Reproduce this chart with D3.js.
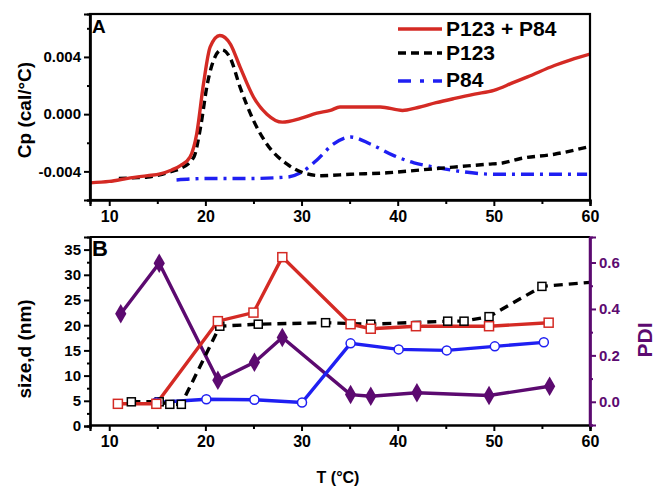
<!DOCTYPE html>
<html><head><meta charset="utf-8">
<script src="https://cdn.jsdelivr.net/npm/d3@7"></script>
<style>
body{margin:0;background:#fff;}
text{font-family:"Liberation Sans",Arial,sans-serif;font-weight:bold;}
</style></head>
<body><svg id="c" width="657" height="487"></svg>
<script>
// ---- Panel A data (DSC, Cp in cal/°C) ----
const mixT  = [8,10,12.2,14,15.3,16.5,17.4,18.4,19.1,19.8,20.5,21.5,22.6,23.6,25,26.4,28,29.9,31.6,33,34,36,38.2,40.5,42,44,45.8,48,50,52,53.5,56.3,58,60];
const mixCp = [-0.0048,-0.0047,-0.00445,-0.0043,-0.00417,-0.0039,-0.0036,-0.003,-0.00137,0.0021,0.0047,0.0055,0.0049,0.0033,0.0012,0.0000,-0.00056,-0.0003,0.00007,0.00026,0.0005,0.0005,0.0005,0.00026,0.00045,0.0008,0.00108,0.0014,0.00166,0.0022,0.0026,0.0034,0.0038,0.0042];
const p123T  = [11,12.5,14,15.5,16.5,17.4,18.8,19.5,20.2,21,21.7,22.6,23.6,25,26.4,28.5,30.2,32,35.1,38.9,42.4,45.8,49.3,51,52.8,56.3,59.7];
const p123Cp = [-0.0045,-0.00445,-0.0044,-0.0042,-0.0040,-0.0038,-0.003,-0.0009,0.0021,0.004,0.0045,0.0039,0.0019,-0.00044,-0.0021,-0.0035,-0.0041,-0.0043,-0.0042,-0.0041,-0.0039,-0.0037,-0.0035,-0.0034,-0.0031,-0.0028,-0.0023];
const p84T  = [17,20,24,28.5,29.9,31.6,33.3,35.1,37.2,39.6,41.7,43.8,46.5,50,52.8,56,59.7];
const p84Cp = [-0.0046,-0.0045,-0.0045,-0.0044,-0.0041,-0.0032,-0.0021,-0.0016,-0.0021,-0.0029,-0.0034,-0.0037,-0.0040,-0.0042,-0.0042,-0.0042,-0.0042];
const legendNames = ["P123 + P84","P123","P84"];
const cpTicks = [-0.004,0.000,0.004];
const cpTickLabels = ["-0.004","0.000","0.004"];
const cpMinor = [-0.006,-0.002,0.002,0.006];
const tTicks = [10,20,30,40,50,60];
const tMinor = [15,25,35,45,55];

// ---- Panel B data (DLS size and PDI) ----
const redT = [10.9,14.9,21.3,25,28,35.1,37.2,41.9,49.5,55.7];
const redSize = [4.4,4.4,20.8,22.5,33.5,20.2,19.3,19.8,19.8,20.5];
const blackT = [12.3,15.2,16.3,17.5,21.5,25.5,32.5,37.2,45.2,46.9,49.5,55,60];
const blackSize = [4.8,4.8,4.3,4.3,19.8,20.2,20.5,20.2,20.8,20.8,21.7,27.7,28.5];
const blackMarker = [1,1,1,1,1,1,1,1,1,1,1,1,0];
const blueT = [14.9,20.1,25.1,30.05,35.1,40.1,45.1,50.1,55.2];
const blueSize = [4.65,5.3,5.2,4.65,16.4,15.2,15.0,15.8,16.6];
const pdiT = [11.2,15.2,21.3,25.1,28,35.1,37.2,42,49.5,55.8];
const pdi = [0.379,0.597,0.093,0.17,0.277,0.031,0.024,0.039,0.027,0.067];
const sizeTicks = [0,5,10,15,20,25,30,35];
const sizeMinor = [2.5,7.5,12.5,17.5,22.5,27.5,32.5];
const pdiTicks = [0.0,0.2,0.4,0.6];
const pdiMinor = [-0.1,0.1,0.3,0.5];

const RED="#d42a24", BLUE="#1f1ff2", PURPLE="#5c0a70", BLACK="#000";
const svg = d3.select("#c");
const L=90, R=590;
const x = d3.scaleLinear().domain([8,60]).range([L,R]);

// ---------- Panel A ----------
const aT=14, aB=200;
const yA = d3.scaleLinear().domain([-0.006,0.007]).range([aB,aT]);
const gA = svg.append("g");
svg.append("clipPath").attr("id","ca").append("rect").attr("x",L).attr("y",aT).attr("width",R-L).attr("height",aB-aT);
const lineA = (T,V)=>d3.line().x((d,i)=>x(T[i])).y(d=>yA(d)).curve(d3.curveMonotoneX)(V);
const plotA = gA.append("g").attr("clip-path","url(#ca)");
plotA.append("path").attr("d",lineA(p84T,p84Cp)).attr("fill","none").attr("stroke",BLUE).attr("stroke-width",3.4).attr("stroke-dasharray","13,6,3,6");
plotA.append("path").attr("d",lineA(p123T,p123Cp)).attr("fill","none").attr("stroke",BLACK).attr("stroke-width",3.4).attr("stroke-dasharray","8,5");
plotA.append("path").attr("d",lineA(mixT,mixCp)).attr("fill","none").attr("stroke",RED).attr("stroke-width",3.4);

gA.append("rect").attr("x",L).attr("y",aT).attr("width",R-L).attr("height",aB-aT).attr("fill","none").attr("stroke","#000").attr("stroke-width",2.2);
const axA = gA.append("g").attr("class","yax").attr("transform",`translate(${L},0)`)
  .call(d3.axisLeft(yA).tickValues(cpTicks).tickFormat((d,i)=>cpTickLabels[i]).tickSize(6).tickPadding(3));
axA.append("g").call(d3.axisLeft(yA).tickValues(cpMinor).tickSize(3).tickFormat(""));
const axAx = gA.append("g").attr("class","xax").attr("transform",`translate(0,${aB})`)
  .call(d3.axisBottom(x).tickValues(tTicks).tickSize(6).tickPadding(5));
axAx.append("g").call(d3.axisBottom(x).tickValues(tMinor).tickSize(4).tickFormat(""));

gA.append("text").attr("x",L+2).attr("y",aT+19).attr("font-size",19).text("A");
gA.append("text").attr("transform","translate(31,110) rotate(-90)").attr("text-anchor","middle").attr("font-size",19).text("Cp (cal/°C)");

// legend
const leg = gA.append("g");
const legStyles = [{c:RED,d:null},{c:BLACK,d:"8,5"},{c:BLUE,d:"13,9,4,9"}];
const legY=[29,53,81], legBase=[36,60,87];
legendNames.forEach((n,i)=>{
  leg.append("line").attr("x1",398).attr("x2",442).attr("y1",legY[i]).attr("y2",legY[i])
    .attr("stroke",legStyles[i].c).attr("stroke-width",3.5).attr("stroke-dasharray",legStyles[i].d);
  leg.append("text").attr("x",446).attr("y",legBase[i]).attr("font-size",21).text(n);
});

// ---------- Panel B ----------
const bT=237, bB=425;
const yB = d3.scaleLinear().domain([0,37.5]).range([426,bT]);
const yP = d3.scaleLinear().domain([-0.1,0.71]).range([bB,bT]);
const gB = svg.append("g");
const lineB = (T,V,ys)=>d3.line().x((d,i)=>x(T[i])).y(d=>ys(d))(V);

gB.append("path").attr("d",lineB(pdiT,pdi,yP)).attr("fill","none").attr("stroke",PURPLE).attr("stroke-width",3.4);
gB.append("path").attr("d",lineB(blueT,blueSize,yB)).attr("fill","none").attr("stroke",BLUE).attr("stroke-width",3.4);
gB.append("path").attr("d",lineB(blackT,blackSize,yB)).attr("fill","none").attr("stroke",BLACK).attr("stroke-width",3.4).attr("stroke-dasharray","9,6");
gB.append("path").attr("d",lineB(redT,redSize,yB)).attr("fill","none").attr("stroke",RED).attr("stroke-width",3.4);

const bIdx = blackT.map((d,i)=>i).filter(i=>blackMarker[i]);
gB.selectAll(".bm").data(bIdx).enter().append("rect")
  .attr("x",i=>x(blackT[i])-4).attr("y",i=>yB(blackSize[i])-4).attr("width",8).attr("height",8)
  .attr("fill","#fff").attr("stroke",BLACK).attr("stroke-width",1.5);
gB.selectAll(".bc").data(blueT).enter().append("circle")
  .attr("cx",d=>x(d)).attr("cy",(d,i)=>yB(blueSize[i])).attr("r",4.5)
  .attr("fill","#fff").attr("stroke",BLUE).attr("stroke-width",1.5);
gB.selectAll(".rs").data(redT).enter().append("rect")
  .attr("x",d=>x(d)-4.5).attr("y",(d,i)=>yB(redSize[i])-4.5).attr("width",9).attr("height",9)
  .attr("fill","#fff").attr("stroke",RED).attr("stroke-width",1.5);
gB.selectAll(".pd").data(pdiT).enter().append("path")
  .attr("d",d3.symbol().type(d3.symbolDiamond).size(110))
  .attr("transform",(d,i)=>`translate(${x(d)},${yP(pdi[i])})`).attr("fill",PURPLE);

gB.append("line").attr("x1",L).attr("x2",R).attr("y1",bT).attr("y2",bT).attr("stroke","#000").attr("stroke-width",2.2);
gB.append("line").attr("x1",R).attr("x2",R).attr("y1",bT).attr("y2",bB).attr("stroke",PURPLE).attr("stroke-width",2.5);

const axBl = gB.append("g").attr("class","yax").attr("transform",`translate(${L},0)`)
  .call(d3.axisLeft(yB).tickValues(sizeTicks).tickSize(6).tickPadding(3));
axBl.append("g").call(d3.axisLeft(yB).tickValues(sizeMinor).tickSize(3).tickFormat(""));
const axBx = gB.append("g").attr("class","xax").attr("transform",`translate(0,${bB})`)
  .call(d3.axisBottom(x).tickValues(tTicks).tickSize(6).tickPadding(5));
axBx.append("g").call(d3.axisBottom(x).tickValues(tMinor).tickSize(4).tickFormat(""));
const axBr = gB.append("g").attr("class","yax").attr("transform",`translate(${R},0)`)
  .call(d3.axisRight(yP).tickValues(pdiTicks).tickFormat(d3.format(".1f")).tickSize(6).tickPadding(3));
axBr.append("g").call(d3.axisRight(yP).tickValues(pdiMinor).tickSize(3).tickFormat(""));

gB.append("text").attr("x",L+2).attr("y",bT+19).attr("font-size",22).attr("font-weight","normal").text("B");
gB.append("text").attr("transform","translate(31,349) rotate(-90)").attr("text-anchor","middle").attr("font-size",19).text("size,d (nm)");
gB.append("text").attr("transform","translate(652,340) rotate(-90)").attr("text-anchor","middle").attr("font-size",21).attr("fill",PURPLE).text("PDI");
gB.append("text").attr("x",338).attr("y",483).attr("text-anchor","middle").attr("font-size",16).text("T (°C)");

// common axis styling
svg.selectAll(".domain").attr("stroke-width",2.2);
svg.selectAll(".tick line").attr("stroke-width",2);
svg.selectAll(".tick text").attr("font-family","Liberation Sans, Arial, sans-serif").attr("font-weight","bold");
svg.selectAll(".yax .tick text").attr("font-size",15);
svg.selectAll(".xax .tick text").attr("font-size",16);
axBr.selectAll("line,path").attr("stroke",PURPLE);
axBr.selectAll("text").attr("fill",PURPLE);
</script></body></html>
